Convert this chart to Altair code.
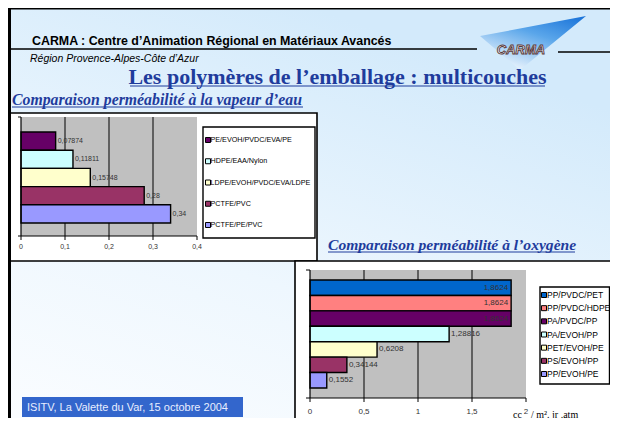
import altair as alt
import pandas as pd

# ---------------- data ----------------
vap_names = ["PE/EVOH/PVDC/EVA/PE", "HDPE/EAA/Nylon", "LDPE/EVOH/PVDC/EVA/LDPE",
             "PCTFE/PVC", "PCTFE/PE/PVC"]
vap_values = [0.07874, 0.11811, 0.15748, 0.28, 0.34]
vap_labels = ["0,07874", "0,11811", "0,15748", "0,28", "0,34"]
vap_ticks = [0, 0.1, 0.2, 0.3, 0.4]
vap_tick_labels = ["0", "0,1", "0,2", "0,3", "0,4"]

oxy_names = ["PP/PVDC/PET", "PP/PVDC/HDPE", "PA/PVDC/PP", "PA/EVOH/PP",
             "PET/EVOH/PE", "PS/EVOH/PP", "PP/EVOH/PE"]
oxy_values = [1.8624, 1.8624, 1.8624, 1.28816, 0.6208, 0.34144, 0.1552]
oxy_labels = ["1,8624", "1,8624", "1,8624", "1,28816", "0,6208", "0,34144", "0,1552"]
oxy_ticks = [0, 0.5, 1, 1.5, 2]
oxy_tick_labels = ["0", "0,5", "1", "1,5", "2"]

# ---------------- styles ----------------
vap_colors = ["#660066", "#ccffff", "#ffffcc", "#993366", "#9999ff"]
oxy_colors = ["#0066cc", "#ff8080", "#660066", "#ccffff", "#ffffcc", "#993366", "#9999ff"]
SANS = "Liberation Sans"
SERIF = "Liberation Serif"
BLUE = "#1f3c9c"
GRAY = "#c0c0c0"

W, H = 602, 410
OX, OY = 8, 8


def px(x):
    return x - OX


def py(y):
    return y - OY


one = pd.DataFrame({"k": [0]})


def rect(x1, y1, x2, y2, **kw):
    return alt.Chart(one).mark_rect(**kw).encode(
        x=alt.value(px(x1)), x2=alt.value(px(x2)),
        y=alt.value(py(y1)), y2=alt.value(py(y2)))


def rule(x1, y1, x2, y2, **kw):
    return alt.Chart(one).mark_rule(**kw).encode(
        x=alt.value(px(x1)), x2=alt.value(px(x2)),
        y=alt.value(py(y1)), y2=alt.value(py(y2)))


def text(t, x, y, **kw):
    kw.setdefault("baseline", "alphabetic")
    return alt.Chart(one).mark_text(text=t, **kw).encode(
        x=alt.value(px(x)), y=alt.value(py(y)))


layers = []

# slide background
bg = alt.LinearGradient(
    gradient="linear", x1=0, y1=1, x2=0.5, y2=0,
    stops=[alt.GradientStop(color="#fbfdff", offset=0),
           alt.GradientStop(color="#eef7fe", offset=0.45),
           alt.GradientStop(color="#d3eafb", offset=1)])
layers.append(rect(8, 8, 620, 430, fill=bg))

# logo wedge
logo_df = pd.DataFrame({"lx": [480, 520, 586], "top": [36, 28.5, 16], "bot": [36, 70, 16]})
lsx = alt.Scale(domain=[OX, OX + W], range=[0, W])
lsy = alt.Scale(domain=[OY, OY + H], range=[0, H])
logo_grad = alt.LinearGradient(
    gradient="linear", x1=1, y1=0, x2=0.35, y2=1,
    stops=[alt.GradientStop(color="#1670d8", offset=0),
           alt.GradientStop(color="#5aa6ea", offset=0.45),
           alt.GradientStop(color="#eaf4fd", offset=1)])
layers.append(alt.Chart(logo_df).mark_area(fill=logo_grad).encode(
    x=alt.X("lx:Q", scale=lsx, axis=None),
    y=alt.Y("top:Q", scale=lsy, axis=None),
    y2="bot:Q"))
layers.append(text("CARMA", 521, 50, font=SANS, fontSize=13, fontWeight="bold",
                   fontStyle="italic", fill="#f2f2f2", stroke="#5b3838", strokeWidth=0.9,
                   align="center", baseline="middle"))

# header lines
layers.append(rule(8, 49, 477, 49, color="black", strokeWidth=1.6))
layers.append(rule(558, 52, 620, 52, color="black", strokeWidth=1.6))

# header texts
layers.append(text("CARMA : Centre d\u2019Animation Régional en Matériaux Avancés", 32, 44.5,
                   font=SANS, fontSize=12.4, fontWeight="bold", color="black", align="left"))
layers.append(text("Région Provence-Alpes-Côte d\u2019Azur", 30, 61.5, font=SANS, fontSize=10.5,
                   fontStyle="italic", color="black", align="left"))
layers.append(text("Les polymères de l\u2019emballage : multicouches", 337.5, 84, font=SERIF,
                   fontSize=22, fontWeight="bold", color=BLUE, align="center"))
layers.append(rule(130, 86, 545, 86, color=BLUE, strokeWidth=1.2))
layers.append(text("Comparaison perméabilité à la vapeur d\u2019eau", 12, 105, font=SERIF,
                   fontSize=15.8, fontWeight="bold", fontStyle="italic", color=BLUE,
                   align="left"))
layers.append(rule(12, 107, 303, 107, color=BLUE, strokeWidth=1))
layers.append(text("Comparaison perméabilité à l\u2019oxygène", 328, 249.5, font=SERIF,
                   fontSize=15.6, fontWeight="bold", fontStyle="italic", color=BLUE,
                   align="left"))
layers.append(rule(328, 252, 575, 252, color=BLUE, strokeWidth=1))

# chart boxes
layers.append(rect(10, 113, 317, 261, fill="white", stroke="black", strokeWidth=1.6))
layers.append(rect(295, 261, 630, 440, fill="white", stroke="black", strokeWidth=1.6))

# ---------- chart 1 : vapeur d'eau ----------
vap_df = pd.DataFrame({"name": vap_names, "value": vap_values, "label": vap_labels})
vt_df = pd.DataFrame({"t": vap_ticks, "lab": vap_tick_labels})
vx = alt.Scale(domain=[0, 0.4], range=[px(21), px(197)], nice=False)
vy = alt.Scale(domain=vap_names, range=[py(132), py(223)], paddingInner=0, paddingOuter=0)
vfill = alt.Scale(domain=vap_names, range=vap_colors)
VX = alt.X("value:Q", scale=vx, axis=None)
VY = alt.Y("name:N", scale=vy, axis=None, sort=None)
TX1 = alt.X("t:Q", scale=vx, axis=None)

layers.append(rect(21, 117, 197, 236, fill=GRAY))
layers.append(alt.Chart(vt_df).transform_filter("datum.t > 0 && datum.t < 0.39")
              .mark_rule(color="black", strokeWidth=1)
              .encode(x=TX1, y=alt.value(py(117)), y2=alt.value(py(236))))
layers.append(alt.Chart(vap_df).mark_bar(stroke="black", strokeWidth=1.4).encode(
    x=VX, y=VY, fill=alt.Fill("name:N", scale=vfill, legend=None)))
layers.append(alt.Chart(vap_df).mark_text(align="left", dx=2, font=SANS, fontSize=7,
                                          color="#333333", baseline="middle").encode(
    x=VX, y=VY, text="label:N"))
# axes
layers.append(rule(21, 117, 21, 236, color="black", strokeWidth=1.2))
layers.append(rule(18, 117, 21, 117, color="black", strokeWidth=1))
layers.append(rule(18, 236, 21, 236, color="black", strokeWidth=1))
layers.append(rule(21, 236, 197, 236, color="black", strokeWidth=1.2))
layers.append(alt.Chart(vt_df).mark_rule(color="black", strokeWidth=1).encode(
    x=TX1, y=alt.value(py(236)), y2=alt.value(py(240))))
layers.append(alt.Chart(vt_df).mark_text(font=SANS, fontSize=7, color="#333333",
                                         baseline="middle").encode(
    x=TX1, y=alt.value(py(247)), text="lab:N"))
# legend
layers.append(rect(203, 127, 315, 238, fill="white", stroke="black", strokeWidth=1.4))
ly1 = alt.Scale(type="point", domain=vap_names, range=[py(140), py(225)], padding=0)
layers.append(alt.Chart(vap_df).mark_square(size=25, stroke="black", strokeWidth=1, opacity=1)
              .encode(x=alt.value(px(208)), y=alt.Y("name:N", scale=ly1, axis=None),
                      fill=alt.Fill("name:N", scale=vfill, legend=None)))
layers.append(alt.Chart(vap_df).mark_text(align="left", font=SANS, fontSize=7.2,
                                          color="black", baseline="middle")
              .encode(x=alt.value(px(210.5)), y=alt.Y("name:N", scale=ly1, axis=None),
                      text="name:N"))

# ---------- chart 2 : oxygène ----------
oxy_df = pd.DataFrame({"name": oxy_names, "value": oxy_values, "label": oxy_labels})
ot_df = pd.DataFrame({"t": oxy_ticks, "lab": oxy_tick_labels})
ox = alt.Scale(domain=[0, 2], range=[px(310), px(526)], nice=False)
oy = alt.Scale(domain=oxy_names, range=[py(280), py(388)], paddingInner=0, paddingOuter=0)
ofill = alt.Scale(domain=oxy_names, range=oxy_colors)
OXE = alt.X("value:Q", scale=ox, axis=None)
OYE = alt.Y("name:N", scale=oy, axis=None, sort=None)
TX2 = alt.X("t:Q", scale=ox, axis=None)

layers.append(rect(310, 270, 526, 398, fill=GRAY))
layers.append(alt.Chart(ot_df).transform_filter("datum.t > 0 && datum.t < 1.9")
              .mark_rule(color="black", strokeWidth=1)
              .encode(x=TX2, y=alt.value(py(270)), y2=alt.value(py(398))))
layers.append(alt.Chart(oxy_df).mark_bar(stroke="black", strokeWidth=1.4).encode(
    x=OXE, y=OYE, fill=alt.Fill("name:N", scale=ofill, legend=None)))
layers.append(alt.Chart(oxy_df).transform_filter("datum.value > 1.5")
              .mark_text(align="right", dx=-3, font=SANS, fontSize=8, color="#333333",
                         baseline="middle")
              .encode(x=OXE, y=OYE, text="label:N"))
layers.append(alt.Chart(oxy_df).transform_filter("datum.value <= 1.5")
              .mark_text(align="left", dx=2, font=SANS, fontSize=8, color="#333333",
                         baseline="middle")
              .encode(x=OXE, y=OYE, text="label:N"))
# axes
layers.append(rule(310, 270, 310, 398, color="black", strokeWidth=1.2))
layers.append(rule(306, 270, 310, 270, color="black", strokeWidth=1))
layers.append(rule(306, 398, 310, 398, color="black", strokeWidth=1))
layers.append(rule(310, 398, 526, 398, color="black", strokeWidth=1.2))
layers.append(alt.Chart(ot_df).mark_rule(color="black", strokeWidth=1).encode(
    x=TX2, y=alt.value(py(398)), y2=alt.value(py(402))))
layers.append(alt.Chart(ot_df).mark_text(font=SANS, fontSize=8, color="#333333",
                                         baseline="middle").encode(
    x=TX2, y=alt.value(py(412)), text="lab:N"))
layers.append(text("cc", 513, 417.5, font=SERIF, fontSize=10, color="black", align="left"))
layers.append(text("/ m². jr .atm", 531, 417.5, font=SERIF, fontSize=10, color="black",
                   align="left"))
# legend
layers.append(rect(540, 287, 609.5, 384, fill="white", stroke="black", strokeWidth=1.4))
ly2 = alt.Scale(type="point", domain=oxy_names, range=[py(295), py(374)], padding=0)
layers.append(alt.Chart(oxy_df).mark_square(size=25, stroke="black", strokeWidth=1, opacity=1)
              .encode(x=alt.value(px(544)), y=alt.Y("name:N", scale=ly2, axis=None),
                      fill=alt.Fill("name:N", scale=ofill, legend=None)))
layers.append(alt.Chart(oxy_df).mark_text(align="left", font=SANS, fontSize=8.5,
                                          color="black", baseline="middle")
              .encode(x=alt.value(px(547)), y=alt.Y("name:N", scale=ly2, axis=None),
                      text="name:N"))

# footer box
layers.append(rect(22, 397, 243, 417, fill="#3366cc"))
layers.append(text("ISITV, La Valette du Var, 15 octobre 2004", 27, 407.5, font=SANS,
                   fontSize=11, color="#e8eeff", align="left", baseline="middle"))

# slide frame
layers.append(rect(8, 8, 11, 440, fill="black"))
layers.append(rect(8, 7.5, 620, 9.5, fill="black"))

chart = alt.layer(*layers).resolve_scale(
    x="independent", y="independent", fill="independent"
).properties(
    width=W, height=H, padding=0, autosize=alt.AutoSizeParams(type="none")
).configure_view(strokeWidth=0)

chart.save("out.html", embed_options={"renderer": "svg", "actions": False})
